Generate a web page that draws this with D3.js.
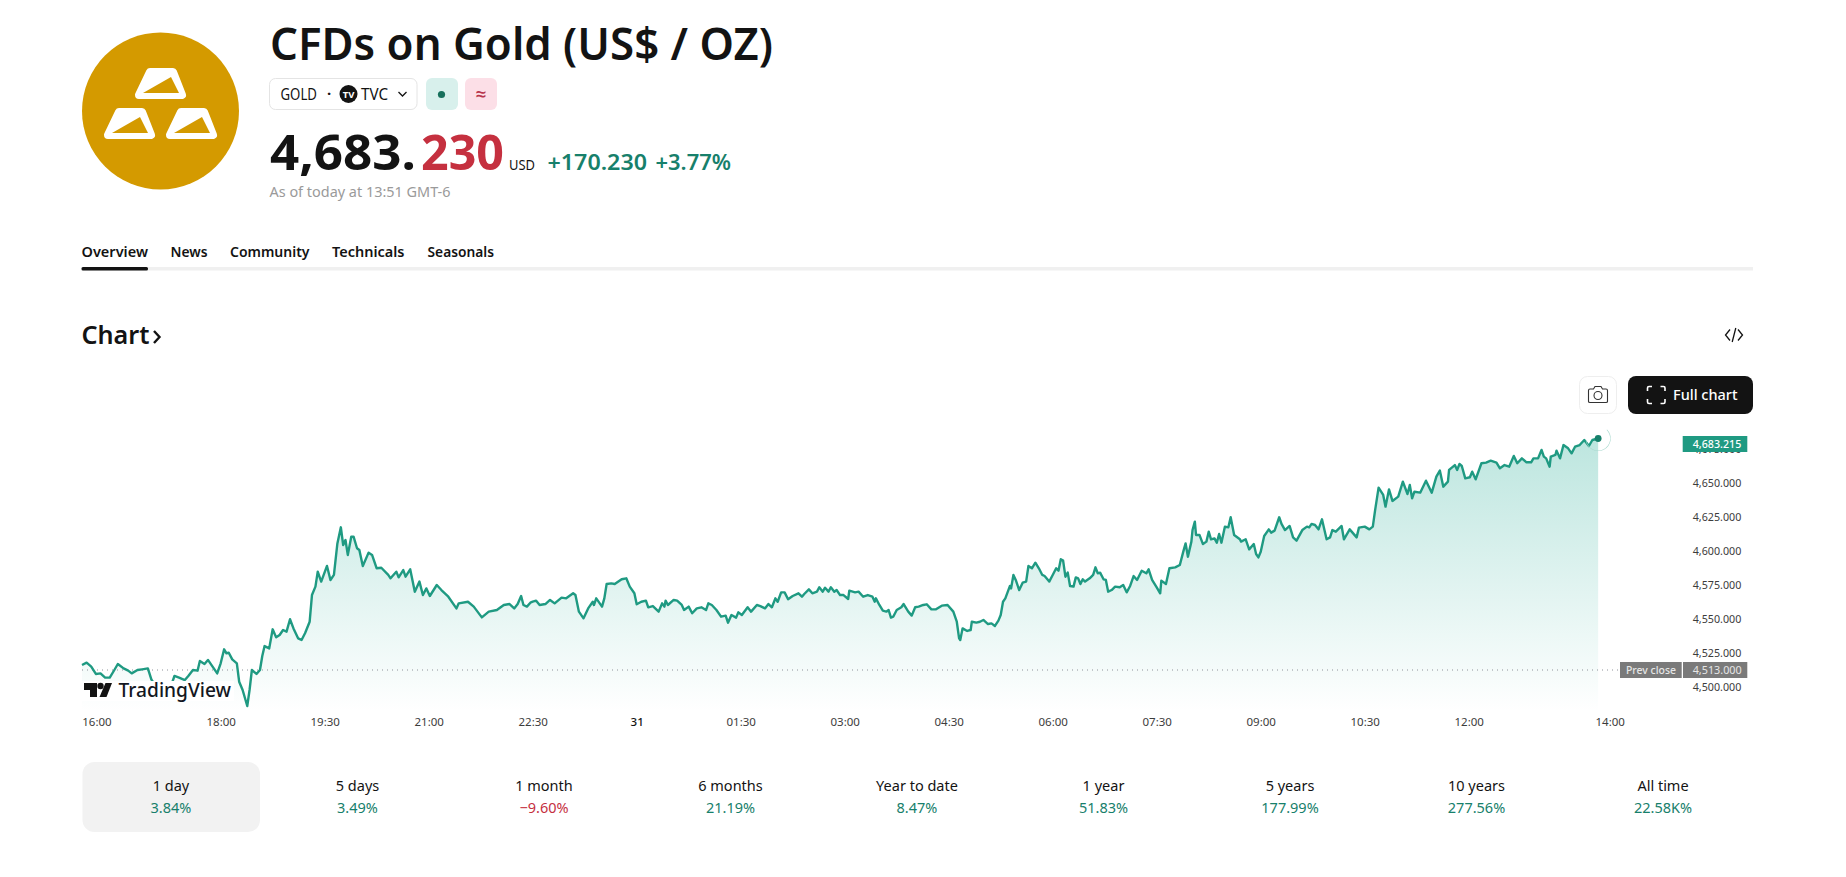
<!DOCTYPE html>
<html>
<head>
<meta charset="utf-8">
<title>CFDs on Gold (US$ / OZ)</title>
<script src="https://cdn.jsdelivr.net/npm/d3@7"></script>
<style>
  html, body { margin: 0; padding: 0; background: #fff; overflow: hidden; }
  svg { display: block; }
  text { font-family: "Noto Sans", "Open Sans", sans-serif; }
</style>
</head>
<body>
<div id="chart"></div>
<script>
// minutes of trading since the first bar
const sessionMinutes = [
  0,4,8,12,16,20,24,28,31,36,40,43,48,52,57,60,64,68,73,78,80,84,89,92,96,100,102,106,109,113,117,120,123,125,127,130,134,136,139,143,145,147,151,154,156,158,162,165,168,171,174,177,180,183,187,190,193,197,199,202,204,206,207,212,215,218,221,224,226,228,230,233,235,238,240,243,248,251,255,259,265,267,272,274,278,280,284,288,292,295,298,301,307,311,317,324,326,334,339,346,352,359,365,370,
  374,377,380,382,385,388,390,393,396,401,405,409,415,419,425,427,430,434,438,442,443,445,450,452,454,458,461,467,471,474,478,480,484,488,490,494,499,502,504,505,507,512,515,519,521,525,528,532,536,540,542,545,549,553,557,559,562,566,568,571,576,579,584,
  587,591,594,597,600,602,605,608,611,615,620,623,625,629,632,636,638,641,643,646,648,651,653,656,659,663,664,669,672,676,680,684,686,687,690,693,696,698,700,702,705,709,711,715,718,721,724,728,731,735,739,744,749,754,757,759,760,762,766,769,770,774,777,780,784,787,790,793,795,797,799,803,804,806,808,811,
  814,817,819,822,825,828,831,833,837,840,843,845,847,849,851,853,855,858,860,862,864,866,868,872,875,877,879,881,884,886,888,891,894,898,901,904,907,910,913,917,921,923,926,930,933,934,938,941,946,950,953,955,957,960,961,963,964,967,970,973,975,977,980,982,984,986,989,992,994,997,1002,1003,1007,1010,1014,1016,1018,1020,1023,1027,1029,1032,1036,1038,1041,1045,1048,1051,1056,1060,1062,
  1064,1067,1070,1073,1077,1080,1082,1085,1090,1092,1097,1103,1105,1110,1114,1117,1119,1122,1126,1128,1131,1134,1139,1143,1147,1149,1151,1153,1158,1163,1168,1172,1175,1178,1182,1183,1188,1190,1192,1194,1197,1201,1203,1206,1211,1215,1219,1224,1227,1231,1235,1239,1242,1246,1250,1254,1256,1260,1263,1265,1267,1270,1271,1275,1276,1279,1282,1286,1289,1292,1296,1300,1304,1307,1312
];
const goldPrices = [
  4516.7,4518.4,4515.5,4510.1,4510.5,4507.4,4507.4,4513,4517.4,4514.2,4512.5,4510.5,4513,4513.5,4514.2,4506.1,4500.7,4499.5,4501.2,4503.7,4508.6,4507.4,4505.6,4508.6,4513,4512.5,4519.6,4517.4,4520.4,4515.5,4510.5,4517.9,4528.2,4525.3,4525.7,4520.8,4517.9,4504.4,4498.3,4486.5,4498.3,4513,4510.1,4513,4523.3,4530.6,4528.9,4542.9,4537,4538.7,4542.4,4541.2,4550.3,4543.6,4536.3,4535.1,4540,4548.5,4568.1,4574.3,4585.3,4580.4,4578,4589.5,4579.2,4582.9,4606.1,4617.9,4604.9,4608.6,4597.6,4611,4611,4602.5,4601.2,4589.5,4599.3,4597.6,4587.8,4588.2,4582.9,4580.4,4585.3,4581.1,4586.5,4581.6,4587,4570.6,4578,4568.1,4573,4567.4,4575.5,4571.8,4566.9,4558.3,4562,4563.2,4559.6,4551.7,4555.9,4557.1,4560.8,4561.5,
  4558.3,4561.5,4567.4,4560.8,4559.6,4562.5,4563.2,4564,4560.8,4561.5,4564.5,4562,4566.2,4565.7,4569.4,4568.1,4555.9,4551,4558.3,4563.2,4560.8,4565.7,4559.6,4565.7,4576.2,4576.7,4576.2,4579.7,4580.4,4574.3,4569.4,4561.3,4563.2,4564,4559.1,4560,4555.9,4562,4559.6,4564,4560.8,4564.5,4564,4560.8,4557.1,4559.6,4554.7,4558.3,4559.1,4557.1,4562,4560.8,4557.1,4552.2,4553,4547.8,4553.4,4551.5,4555.4,4553.4,4559.1,4555.9,4560.8,
  4560,4558.3,4561.5,4559.1,4565.7,4563.2,4570.1,4570.1,4565,4567.4,4569.4,4566.9,4568.9,4572.3,4569.4,4570.6,4573.8,4570.6,4573.5,4570.6,4573.8,4570.6,4571.8,4568.1,4568.1,4565.2,4571.3,4570.1,4570.6,4566.9,4568.1,4566.9,4563.2,4565.7,4560.8,4556.6,4555.9,4557.1,4551.5,4552.2,4557.1,4559.1,4561.5,4555.9,4553,4559.1,4559.6,4560.8,4561.3,4557.6,4557.6,4560.3,4560.8,4555.9,4548.5,4536.3,4535.1,4543.6,4541.7,4542.4,4548.5,4547.8,4548.5,4549.8,4546.8,4547.3,4545.4,4549.3,4553.4,4563.2,4565.7,4574.8,4573,4582.9,4579.2,4571.8,
  4577.2,4578,4589.5,4587.8,4591.9,4587.8,4582.9,4582.1,4578,4582.9,4587.8,4586,4594.4,4593.4,4581.6,4584.6,4574.8,4574.3,4581.1,4580.4,4576.2,4579.7,4578,4580.4,4582.9,4588.5,4584.1,4584.6,4579.7,4579.2,4570.6,4571.8,4574.3,4573.8,4575.5,4570.1,4574.8,4582.1,4579.2,4586,4584.1,4587,4579.2,4573.8,4569.4,4578.7,4576.2,4587.8,4588.5,4590.2,4600,4606.1,4596.3,4607.4,4615.9,4622.1,4612.3,4612.3,4605.6,4607.4,4614.7,4609.1,4609.8,4606.6,4613,4606.6,4618.4,4617.9,4625.3,4612.3,4609.1,4607.4,4609.1,4601.7,4605.6,4598.3,4595.8,4600,4611.5,4616.4,4614,4615.5,4625.3,4620.4,4615.9,4618.9,4610.5,4608.1,4615.9,4618.4,4617.9,
  4620.4,4619.6,4616.4,4623.8,4609.1,4610.5,4615.9,4614.7,4618.9,4609.1,4616.4,4610.5,4617.7,4618.4,4616.4,4618.4,4630.6,4647.1,4641.7,4633.1,4645.8,4637.3,4640.5,4651.5,4642.4,4649,4639.2,4644.1,4643.4,4652.2,4643.4,4655.2,4659.6,4647.8,4651.5,4660.1,4663.7,4660.1,4664.5,4663,4653.9,4654.7,4658.8,4653.2,4665,4665.5,4666.9,4665.5,4661.3,4663.7,4662.5,4670.4,4665,4668.6,4665.7,4665.7,4668.6,4668.6,4674.8,4669.9,4668.6,4662.5,4669.9,4671.1,4674.3,4668.6,4678.4,4676,4672.3,4677.2,4678.4,4682.1,4677.7,4682.1,4683.2
];
const prevClose = 4513;
const lastPrice = 4683.215;

const timeTickMinutes = [12.5,120,210,300,390,480,570,660,750,840,930,1020,1110,1200,1322];
const timeTickLabels = ["16:00","18:00","19:30","21:00","22:30","31","01:30","03:00","04:30","06:00","07:30","09:00","10:30","12:00","14:00"];
const priceTicks = [4500,4525,4550,4575,4600,4625,4650,4675];

const periodLabels = ["1 day","5 days","1 month","6 months","Year to date","1 year","5 years","10 years","All time"];
const periodChanges = ["3.84%","3.49%","−9.60%","21.19%","8.47%","51.83%","177.99%","277.56%","22.58K%"];

const tabLabels = ["Overview","News","Community","Technicals","Seasonals"];

const width = 1846;
const height = 877;
const green = "#1f9a82";
const darkGreen = "#17806b";
const red = "#c5303f";
const ink = "#131313";

const svg = d3.select("#chart").append("svg")
  .attr("width", width)
  .attr("height", height)
  .attr("viewBox", `0 0 ${width} ${height}`);

// small helper, fit = measured width of the text in the picture
function label(text, x, y, size, color, opts = {}) {
  const t = svg.append("text")
    .attr("x", x).attr("y", y)
    .attr("font-size", size)
    .attr("fill", color)
    .attr("font-weight", opts.weight || 400)
    .attr("text-anchor", opts.anchor || "start")
    .text(text);
  if (opts.fit) t.attr("textLength", opts.fit).attr("lengthAdjust", "spacingAndGlyphs");
  return t;
}

// --- header ---
svg.append("circle").attr("cx", 160.5).attr("cy", 111).attr("r", 78.5).attr("fill", "#d49a00");

// three gold bars in the logo
[[0, 0], [-31, 40], [31, 40]].forEach(([dx, dy]) => {
  const bar = svg.append("g").attr("transform", `translate(${dx},${dy})`);
  bar.append("path")
    .attr("d", "M150,72 L173,72 L182,95 L139,95 Z")
    .attr("fill", "#fff").attr("stroke", "#fff")
    .attr("stroke-width", 8).attr("stroke-linejoin", "round");
  bar.append("path").attr("d", "M143,93 L171,77 L179,93 Z").attr("fill", "#d49a00");
});

label("CFDs on Gold (US$ / OZ)", 270, 60, 45, ink, { weight: 600, fit: 503 });

// symbol chip
svg.append("rect").attr("x", 269.5).attr("y", 78.5).attr("width", 147.5).attr("height", 31)
  .attr("rx", 6).attr("fill", "#fff").attr("stroke", "#e4e4e4");
label("GOLD", 280.5, 99.5, 16, ink, { fit: 36.5 });
label("·", 329, 99, 15, ink, { anchor: "middle", weight: 700 });
svg.append("circle").attr("cx", 348.5).attr("cy", 94).attr("r", 9).attr("fill", ink);
label("TV", 348.5, 97.5, 9.5, "#fff", { anchor: "middle", weight: 700 });
label("TVC", 361, 99.5, 16, ink, { fit: 27 });
svg.append("path").attr("d", "M398.5,92 L402.5,96 L406.5,92").attr("fill", "none")
  .attr("stroke", ink).attr("stroke-width", 1.3);

svg.append("rect").attr("x", 426).attr("y", 78).attr("width", 32).attr("height", 32)
  .attr("rx", 6).attr("fill", "#d8f0ec");
svg.append("circle").attr("cx", 441.5).attr("cy", 94.5).attr("r", 3.6).attr("fill", "#17705c");
svg.append("rect").attr("x", 465).attr("y", 78).attr("width", 32).attr("height", 32)
  .attr("rx", 6).attr("fill", "#fcdfe7");
label("≈", 481, 100.5, 19, "#b7354c", { anchor: "middle", weight: 600 });

// price line
label("4,683.", 270, 170, 48, ink, { weight: 700, fit: 146 });
label("230", 421, 170, 48, red, { weight: 700, fit: 83 });
label("USD", 509, 170, 15, ink, { fit: 26 });
label("+170.230", 547.5, 170, 21, darkGreen, { weight: 600, fit: 99.5 });
label("+3.77%", 655.5, 170, 21, darkGreen, { weight: 600, fit: 75.5 });
label("As of today at 13:51 GMT-6", 269.5, 197, 14, "#9a9a9a", { fit: 181 });

// tabs
const tabX = [81.5, 170.5, 230, 332, 427.5];
const tabW = [66.5, 37, 79.5, 72.5, 66.5];
tabLabels.forEach((t, i) => label(t, tabX[i], 257, 14.5, ink, { weight: 600, fit: tabW[i] }));
svg.append("rect").attr("x", 81.5).attr("y", 267).attr("width", 1671.5).attr("height", 3.5).attr("fill", "#f0f0f0");
svg.append("rect").attr("x", 81.5).attr("y", 267).attr("width", 66.5).attr("height", 3.5).attr("rx", 1.5).attr("fill", ink);

// chart heading
label("Chart", 81.5, 344, 25, ink, { weight: 600, fit: 68 });
svg.append("path").attr("d", "M154,331 L159.5,337 L154,343").attr("fill", "none")
  .attr("stroke", ink).attr("stroke-width", 2.4);

// embed icon
svg.append("path").attr("d", "M1730,329.5 L1725.5,335 L1730,340.5 M1738,329.5 L1742.5,335 L1738,340.5 M1735.8,328 L1732.2,342")
  .attr("fill", "none").attr("stroke", ink).attr("stroke-width", 1.3);

// camera button
svg.append("rect").attr("x", 1579.5).attr("y", 376.5).attr("width", 37).attr("height", 37)
  .attr("rx", 8).attr("fill", "#fff").attr("stroke", "#eeeeee");
svg.append("path").attr("d", "M1590,389 L1593.5,389 L1595,386.5 L1601,386.5 L1602.5,389 L1606,389 Q1607.5,389 1607.5,390.5 L1607.5,401.5 Q1607.5,402.5 1606,402.5 L1590,402.5 Q1588.5,402.5 1588.5,401.5 L1588.5,390.5 Q1588.5,389 1590,389 Z")
  .attr("fill", "none").attr("stroke", "#333").attr("stroke-width", 1.1);
svg.append("circle").attr("cx", 1598).attr("cy", 395.5).attr("r", 4).attr("fill", "none").attr("stroke", "#333").attr("stroke-width", 1.1);

// full chart button
svg.append("rect").attr("x", 1628).attr("y", 376).attr("width", 125).attr("height", 38).attr("rx", 8).attr("fill", ink);
svg.append("path").attr("d", "M1647.5,391 L1647.5,388 Q1647.5,386.5 1649,386.5 L1652,386.5 M1660.5,386.5 L1663.5,386.5 Q1665,386.5 1665,388 L1665,391 M1665,399 L1665,402 Q1665,403.5 1663.5,403.5 L1660.5,403.5 M1652,403.5 L1649,403.5 Q1647.5,403.5 1647.5,402 L1647.5,399")
  .attr("fill", "none").attr("stroke", "#fff").attr("stroke-width", 1.6);
label("Full chart", 1673, 400, 15, "#fff", { weight: 500, fit: 64.5 });

// --- chart ---
const x = d3.scaleLinear().domain([0, 1320]).range([82, 1607.4]);
const y = d3.scaleLinear().domain([4513, 4683.215]).range([670, 438.5]);

const points = sessionMinutes.map((m, i) => ({ m: m, price: goldPrices[i] }));

const defs = svg.append("defs");
const grad = defs.append("linearGradient").attr("id", "areaFill")
  .attr("gradientUnits", "userSpaceOnUse")
  .attr("x1", 0).attr("x2", 0).attr("y1", y(lastPrice)).attr("y2", 712);
grad.append("stop").attr("offset", 0).attr("stop-color", "#22ab94").attr("stop-opacity", 0.3);
grad.append("stop").attr("offset", 1).attr("stop-color", "#22ab94").attr("stop-opacity", 0);

svg.append("path").datum(points)
  .attr("fill", "url(#areaFill)")
  .attr("d", d3.area().x(d => x(d.m)).y0(712).y1(d => y(d.price)));

svg.append("line")
  .attr("x1", x(0)).attr("x2", 1620)
  .attr("y1", y(prevClose)).attr("y2", y(prevClose))
  .attr("stroke", "#8f9299").attr("stroke-width", 1).attr("stroke-dasharray", "1 4");

svg.append("path").datum(points)
  .attr("fill", "none")
  .attr("stroke", green).attr("stroke-width", 2.4)
  .attr("stroke-linejoin", "round")
  .attr("d", d3.line().x(d => x(d.m)).y(d => y(d.price)));

// last value dot and the fading pulse ring
const lastX = x(sessionMinutes[sessionMinutes.length - 1]);
const lastY = y(lastPrice);
svg.append("path")
  .attr("transform", `translate(${lastX},${lastY})`)
  .attr("d", d3.arc().innerRadius(12).outerRadius(12.6).startAngle(0.25 * Math.PI).endAngle(1.45 * Math.PI)())
  .attr("fill", "#a9d9ce");
svg.append("circle").attr("cx", lastX).attr("cy", lastY).attr("r", 3.4).attr("fill", darkGreen);

// tradingview watermark sits over the line
svg.append("rect").attr("x", 82).attr("y", 681).attr("width", 152).attr("height", 20).attr("fill", "#fff");
svg.append("path").attr("d", "M84,683 L97,683 L97,697 L90,697 L90,690 L84,690 Z").attr("fill", ink);
svg.append("circle").attr("cx", 100.5).attr("cy", 686).attr("r", 3.2).attr("fill", ink);
svg.append("path").attr("d", "M105.5,683 L112,683 L106.5,697 L99.5,697 Z").attr("fill", ink);
label("TradingView", 118.5, 696.7, 19.5, "#131722", { weight: 500, fit: 112.5 });

// axes
const xAxis = svg.append("g")
  .attr("transform", "translate(0,717.5)")
  .call(d3.axisBottom(x).tickValues(timeTickMinutes).tickSize(0).tickPadding(0)
    .tickFormat((d, i) => timeTickLabels[i]));
xAxis.select(".domain").remove();
xAxis.selectAll("text")
  .attr("font-size", 11.5)
  .attr("font-family", '"Noto Sans", sans-serif')
  .attr("fill", (d, i) => timeTickLabels[i] === "31" ? ink : "#3c3c3c")
  .attr("font-weight", (d, i) => timeTickLabels[i] === "31" ? 500 : 400);

const yAxis = svg.append("g")
  .attr("transform", "translate(1692.7,-1.3)")
  .call(d3.axisRight(y).tickValues(priceTicks).tickSize(0).tickPadding(0).tickFormat(d3.format(",.3f")));
yAxis.select(".domain").remove();
yAxis.selectAll("text")
  .attr("font-size", 11.5)
  .attr("font-family", '"Noto Sans", sans-serif')
  .attr("fill", "#3c3c3c")
  .attr("textLength", 48.6)
  .attr("lengthAdjust", "spacingAndGlyphs");

// price tags
svg.append("rect").attr("x", 1682.7).attr("y", y(lastPrice) - 2.5).attr("width", 64.6).attr("height", 16).attr("fill", green);
label(d3.format(",.3f")(lastPrice), 1692.7, y(lastPrice) + 9.3, 11.5, "#fff", { weight: 500, fit: 48.6 });

svg.append("rect").attr("x", 1620).attr("y", y(prevClose) - 8).attr("width", 61.7).attr("height", 16).attr("fill", "#7a7a7a");
svg.append("rect").attr("x", 1683).attr("y", y(prevClose) - 8).attr("width", 64.3).attr("height", 16).attr("fill", "#7a7a7a");
label("Prev close", 1626, y(prevClose) + 4, 11, "#e6e6e6", { weight: 500, fit: 50 });
label(d3.format(",.3f")(prevClose), 1692.7, y(prevClose) + 4, 11.5, "#e6e6e6", { fit: 49 });

// --- performance row ---
const band = d3.scaleBand().domain(periodLabels).range([77.75, 1756.25]);
svg.append("rect").attr("x", 82.5).attr("y", 762).attr("width", 177.5).attr("height", 70).attr("rx", 12).attr("fill", "#f2f2f2");

periodLabels.forEach((p, i) => {
  const cx = band(p) + band.bandwidth() / 2;
  const change = periodChanges[i];
  label(p, cx, 790.5, 14.5, ink, { anchor: "middle" });
  label(change, cx, 813, 14.5, change.startsWith("−") ? red : darkGreen, { anchor: "middle" });
});
</script>
</body>
</html>
